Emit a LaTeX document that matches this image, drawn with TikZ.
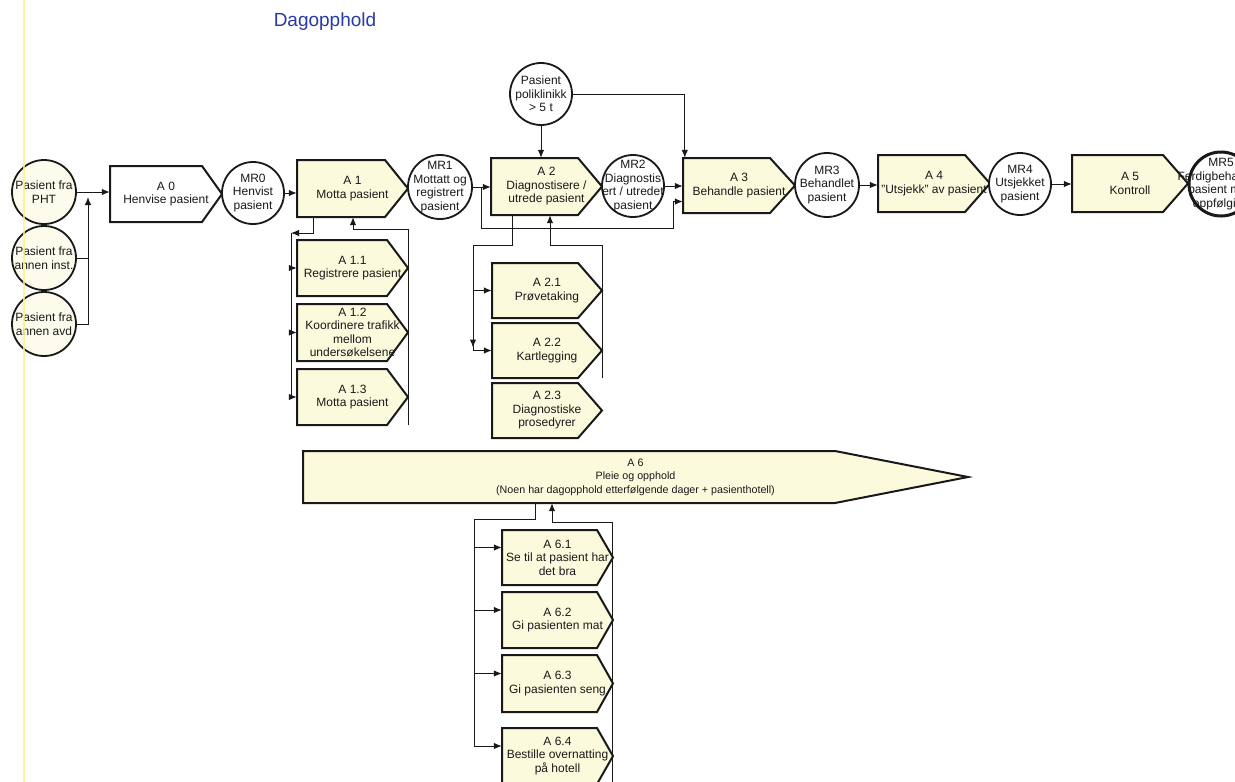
\documentclass[tikz,border=0pt]{standalone}
\usepackage{fontspec}
\setmainfont{Liberation Sans}
\usetikzlibrary{arrows.meta}

\definecolor{actfill}{RGB}{252,250,221}
\definecolor{srcfill}{RGB}{253,252,236}
\definecolor{ink}{RGB}{25,25,25}
\definecolor{titleblue}{RGB}{40,58,165}
\definecolor{marginyellow}{RGB}{250,244,130}

\tikzset{
  actshape/.style={fill=actfill, draw=ink, line width=2pt, line join=miter},
  plainact/.style={fill=white},
  acttext/.style={inner sep=0pt, align=center, text=ink, font=\fontsize{12}{13.5}\selectfont},
  smalltext/.style={font=\fontsize{10.7}{13.5}\selectfont},
  statecirc/.style={circle, draw=ink, fill=white, line width=1.8pt, inner sep=0pt},
  srccirc/.style={fill=srcfill},
  endcirc/.style={line width=3pt},
  statetext/.style={inner sep=0pt, align=center, text=ink, font=\fontsize{12}{13.5}\selectfont},
  link/.style={draw=ink, line width=1pt},
  arr/.style={link, -{Latex[length=8pt,width=6.5pt]}},
  titletext/.style={inner sep=0pt, text=titleblue, font=\fontsize{19}{22}\selectfont},
}

% activity box: #1 extra outline style, #2 name, #3 left, #4 top,
% #5 end of the straight part, #6 tip, #7 bottom, #8 text
\newcommand\actbox[8][]{%
  \filldraw[actshape, #1] (#3,#4) -- (#5,#4) -- (#6,{(#4+#7)/2}) -- (#5,#7) -- (#3,#7) -- cycle;
  \node[acttext, minimum width={#6-#3}, minimum height={#7-#4}] (#2) at ({(#3+#6)/2},{(#4+#7)/2}) {#8};
}
% state circle: #1 extra circle style, #2 name, #3 centre, #4 diameter, #5 text
\newcommand\statenode[5][]{%
  \node[statecirc, minimum size=#4, #1] (#2) at (#3) {};
  \node[statetext] (#2-text) at (#2) {#5};
}

\begin{document}
\begin{tikzpicture}[x=1pt, y=-1pt]
\useasboundingbox (0,0) rectangle (1235,782);
\fill[white] (0,0) rectangle (1235,782);
\clip (0,0) rectangle (1235,782);

\node[titletext] (title) at (325,22) {Dagopphold};

% sources
\statenode[srccirc]{P1}{44,192}{64}{Pasient fra\\PHT}
\statenode[srccirc]{P2}{44,258}{64}{Pasient fra\\annen inst.}
\statenode[srccirc]{P3}{44,324}{64}{Pasient fra\\annen avd}
\statenode{PP}{541,94}{62}{Pasient\\poliklinikk\\> 5 t}

% main chain
\actbox[plainact]{A0}{110}{166}{202}{222}{222}{A 0\\Henvise pasient}
\statenode{MR0}{253,193}{62}{MR0\\Henvist\\pasient}
\actbox{A1}{297}{160}{385}{408}{217}{A 1\\Motta pasient}
\statenode{MR1}{440,187}{64}{MR1\\Mottatt og\\registrert\\pasient}
\actbox{A2}{491}{158}{578}{602}{215}{A 2\\Diagnostisere /\\utrede pasient}
\statenode{MR2}{633,186}{62}{MR2\\Diagnostis\\ert / utredet\\pasient}
\actbox{A3}{683}{158}{770}{795}{213}{A 3\\Behandle pasient}
\statenode{MR3}{827,185}{64}{MR3\\Behandlet\\pasient}
\actbox{A4}{878}{155}{965}{990}{212}{A 4\\\symbol{34}Utsjekk\symbol{34} av pasient}
\statenode{MR4}{1020,184}{62}{MR4\\Utsjekket\\pasient}
\actbox{A5}{1072}{155}{1163}{1188}{212}{A 5\\Kontroll}
\statenode[endcirc]{MR5}{1221,184}{64}{MR5\\Ferdigbehandlet\\pasient med\\oppfølging}

% sub-activities of A 1
\actbox{A11}{297}{240}{387}{408}{296}{A 1.1\\Registrere pasient}
\actbox{A12}{297}{304}{387}{408}{361}{A 1.2\\Koordinere trafikk\\mellom\\undersøkelsene}
\actbox{A13}{297}{369}{387}{408}{425}{A 1.3\\Motta pasient}

% sub-activities of A 2
\actbox{A21}{492}{263}{578}{602}{318}{A 2.1\\Prøvetaking}
\actbox{A22}{492}{323}{578}{602}{378}{A 2.2\\Kartlegging}
\actbox{A23}{492}{383}{578}{602}{438}{A 2.3\\Diagnostiske\\prosedyrer}

% A 6 and its sub-activities
\actbox{A6}{303}{451}{835}{968}{503}{\begin{minipage}{600pt}\centering\fontsize{10.7}{13.5}\selectfont A 6\\Pleie og opphold\\(Noen har dagopphold etterfølgende dager + pasienthotell)\end{minipage}}
\actbox{A61}{502}{530}{597}{613}{585}{A 6.1\\Se til at pasient har\\det bra}
\actbox{A62}{502}{592}{597}{613}{648}{A 6.2\\Gi pasienten mat}
\actbox{A63}{502}{655}{597}{613}{712}{A 6.3\\Gi pasienten seng}
\actbox{A64}{502}{728}{597}{613}{784}{A 6.4\\Bestille overnatting\\på hotell}

% inflow on the left
\coordinate (J) at (88,192);
\draw[arr] (P1.east) -- (P1.east -| A0.west);
\draw[link] (P2.east) -- (P2.east -| J);
\draw[arr] (P3.east) -| ([yshift=-5pt]J);

% main chain links
\draw[arr] (MR0.east) -- (MR0.east -| A1.west);
\draw[arr] (MR1.east) -- (MR1.east -| A2.west);
\coordinate (b1) at (481,228);
\coordinate (b2) at (673,228);
\draw[arr] (MR1.east -| b1) -- (b1) -- (b2) |- ([yshift=-16pt]A3.west);
\draw[arr] (MR2.east) -- (MR2.east -| A3.west);
\draw[arr] (PP.south) -- (PP.south |- A2.north);
\draw[arr] (PP.east) -| ([xshift=2pt]A3.north west);
\draw[arr] (MR3.east) -- (MR3.east -| A4.west);
\draw[arr] (MR4.east) -- (MR4.east -| A5.west);

% A 1 breakdown
\coordinate (a1o) at (313,233);
\coordinate (a1l) at (291,233);
\draw[arr] (a1o |- A1.south) -- (a1o) -- (a1l);
\draw[arr] (a1l) |- (A11.west);
\draw[arr] (a1l) |- (A12.west);
\draw[arr] (a1l) |- (A13.west);
\coordinate (a1r) at (408,229);
\coordinate (a1m) at (353,229);
\draw[arr] (a1r |- A13.south) -- (a1r) -- (a1m) -- (a1m |- A1.south);

% A 2 breakdown
\coordinate (a2o) at (512,245);
\coordinate (a2l) at (473,245);
\draw[arr] (a2o |- A2.south) -- (a2o) -- (a2l) -- ([yshift=3pt]a2l |- A22.west);
\draw[arr] (a2l) |- (A21.west);
\draw[arr] (a2l) |- (A22.west);
\coordinate (a2r) at (602,245);
\coordinate (a2m) at (550,245);
\draw[arr] (a2r |- A22.south) -- (a2r) -- (a2m) -- (a2m |- A2.south);

% A 6 breakdown
\coordinate (a6o) at (535,519);
\coordinate (a6l) at (474,519);
\draw[link] (a6o |- A6.south) -- (a6o) -- (a6l);
\draw[arr] (a6l) |- ([yshift=10pt]A61.west);
\draw[arr] (a6l) |- ([yshift=10pt]A62.west);
\draw[arr] (a6l) |- ([yshift=10pt]A63.west);
\draw[arr] (a6l) |- ([yshift=10pt]A64.west);
\coordinate (a6r) at (612,522);
\coordinate (a6m) at (552,522);
\draw[arr] (a6r |- A64.south) -- (a6r) -- (a6m) -- (a6m |- A6.south);

% margin rule
\draw[marginyellow, line width=1.6pt, opacity=0.8] (24,0) -- (24,782);
\end{tikzpicture}
\end{document}
